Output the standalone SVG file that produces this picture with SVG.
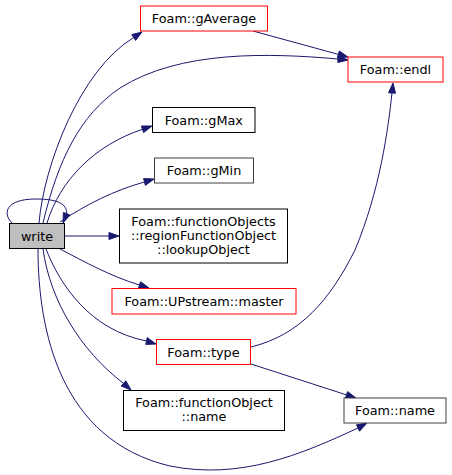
<svg xmlns="http://www.w3.org/2000/svg" width="452" height="475" viewBox="0 0 452 475">
<style>
.n rect{fill:#ffffff;stroke:#000000;stroke-width:1}
.n.red rect{stroke:#ff0000}
.n.grey rect{stroke:#404040}
.n.root rect{fill:#bfbfbf;stroke:#000000}
.n text{font-family:"DejaVu Sans",sans-serif;font-size:12.8px;text-anchor:middle;fill:#000000}
.e path{fill:none;stroke:#191970;stroke-width:1}
.e polygon{fill:#191970;stroke:#191970;stroke-width:1}
</style>
<rect width="452" height="475" fill="#ffffff"/>
<g id="edges" class="e">
  <path d="M39,223 C44,165 80,70 133.7,37.5"/>
  <polygon points="135.6,40.4 142,32 131.8,34.6"/>
  <path d="M43,223 C58,160 80,115 120,88 C180,50 270,53 338,59"/>
  <polygon points="337.8,62.5 348,60 338.2,55.5"/>
  <path d="M253,31 L338.4,54.4"/>
  <polygon points="337.5,57.8 348,57 339.3,51"/>
  <path d="M47,223 C60,180 95,145 142.5,129.3"/>
  <polygon points="143.6,132.6 152,126 141.4,126"/>
  <path d="M60,222 C85,205 115,190 144.5,182"/>
  <polygon points="145.4,185.4 154,179 143.6,178.6"/>
  <path d="M12,223 C2,213 6,199 36,199 C58,199 67,204 66.7,213.7"/>
  <polygon points="69.9,215 63,223 63.4,212.4"/>
  <path d="M64,236 L109,236"/>
  <polygon points="109,232.5 119,236 109,239.5"/>
  <path d="M60,249 C85,262 110,276 139.5,285"/>
  <polygon points="138.4,288.3 149,288 140.6,281.7"/>
  <path d="M46,249 C60,285 90,330 146.5,341"/>
  <polygon points="145.8,344.4 156,344 147.2,337.6"/>
  <path d="M43,249 C50,300 80,350 123.5,383.4"/>
  <polygon points="121.2,386 131,390 125.8,380.8"/>
  <path d="M38,249 C38,330 60,440 170,466 C240,480 300,455 358,428"/>
  <polygon points="359.5,431.2 367,423 356.5,424.8"/>
  <path d="M251,347 C300,335 330,300 355,250 C380,190 388,130 392,93"/>
  <polygon points="388.5,92.8 393,83 395.5,93.2"/>
  <path d="M251,364 L346.5,394.9"/>
  <polygon points="345.4,398.2 356,398 347.6,391.6"/>
</g>
<g id="node_write" class="n root"><rect x="9.5" y="223.5" width="55" height="25"/><text x="37" y="240.5">write</text></g>
<g id="node_gAverage" class="n red"><rect x="140.5" y="6" width="127" height="25"/><text x="204" y="23">Foam::gAverage</text></g>
<g id="node_endl" class="n red"><rect x="348" y="57" width="95" height="25"/><text x="395.5" y="74">Foam::endl</text></g>
<g id="node_gMax" class="n"><rect x="152.5" y="107.5" width="102.5" height="25"/><text x="203.75" y="124.5">Foam::gMax</text></g>
<g id="node_gMin" class="n grey"><rect x="154.5" y="158" width="99" height="25"/><text x="204" y="175">Foam::gMin</text></g>
<g id="node_lookupObject" class="n"><rect x="119.5" y="209" width="168" height="54"/><text x="203.5" y="226">Foam::functionObjects</text><text x="203.5" y="240">::regionFunctionObject</text><text x="203.5" y="254">::lookupObject</text></g>
<g id="node_master" class="n red"><rect x="112" y="288.5" width="184" height="25.5"/><text x="204" y="306">Foam::UPstream::master</text></g>
<g id="node_type" class="n red"><rect x="156.5" y="339.5" width="94" height="25"/><text x="203.5" y="356.5">Foam::type</text></g>
<g id="node_fo_name" class="n"><rect x="123.5" y="390.5" width="161" height="40"/><text x="204" y="407">Foam::functionObject</text><text x="204" y="421">::name</text></g>
<g id="node_name" class="n grey"><rect x="344" y="398" width="102" height="25"/><text x="395" y="415">Foam::name</text></g>
</svg>
